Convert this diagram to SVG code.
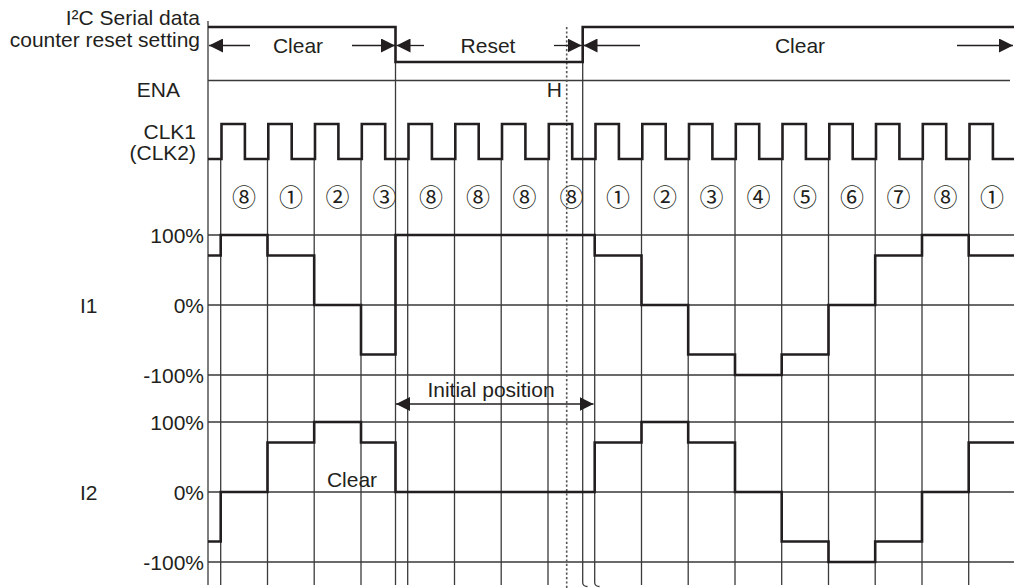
<svg xmlns="http://www.w3.org/2000/svg" width="1014" height="588" viewBox="0 0 1014 588">
<defs>
<style>
.t{font-family:"Liberation Sans",Arial,sans-serif;font-size:21px;fill:#231f20}
.r{text-anchor:end}
.m{text-anchor:middle}
.n{font-family:"Noto Sans CJK JP","DejaVu Sans",sans-serif;font-size:24px;fill:#231f20;text-anchor:middle}
.g{stroke:#3a3a3a;stroke-width:1.3;fill:none}
.w{stroke:#231f20;stroke-width:2.6;fill:none;stroke-linejoin:miter}
.a{stroke:#231f20;stroke-width:1.3;fill:none}
.d{stroke:#555;stroke-width:1.6;stroke-dasharray:2.2 2.2;fill:none}
</style>
<marker id="ah" viewBox="0 0 14 14" refX="14" refY="7" markerWidth="14" markerHeight="14" markerUnits="userSpaceOnUse" orient="auto-start-reverse">
<path d="M0,0 L14,7 L0,14 Z" fill="#231f20"/>
</marker>
</defs>
<rect width="1014" height="588" fill="#fff"/>

<g id="grid">
<path class="g" d="M208,21 V585 M395.5,62 V585 M208,80.5 H1010 M208,235 H1014 M208,305 H1014 M208,375 H1014 M208,422 H1014 M208,492 H1014 M208,562 H1014"/>
<path class="g" d="M220.7,159 V585 M267.5,159 V585 M314.2,159 V585 M361,159 V585 M407.7,159 V585 M454.5,159 V585 M501.2,159 V585 M548,159 V585 M641.5,159 V585 M688.2,159 V585 M735,159 V585 M781.7,159 V585 M828.5,159 V585 M875.2,159 V585 M922,159 V585 M968.7,159 V585"/>
<path class="g" d="M582.7,62 V583 Q583.2,586.5 587.5,586.5 M594.7,159 V583 Q595.2,586.5 599.5,586.5"/>
<path class="d" d="M566.7,27 V588"/>
</g>

<g id="labels">
<text class="t r" x="200" y="25">I²C Serial data</text>
<text class="t r" x="200" y="47">counter reset setting</text>
<text class="t r" x="180" y="97">ENA</text>
<text class="t r" x="562" y="97">H</text>
<text class="t r" x="196" y="139">CLK1</text>
<text class="t r" x="196" y="160">(CLK2)</text>
<text class="t" x="80" y="312.5">I1</text>
<text class="t" x="80" y="500">I2</text>
<text class="t r" x="204" y="242.5">100%</text>
<text class="t r" x="204" y="312.5">0%</text>
<text class="t r" x="204" y="382.5">-100%</text>
<text class="t r" x="204" y="429.5">100%</text>
<text class="t r" x="204" y="499.5">0%</text>
<text class="t r" x="204" y="569.5">-100%</text>
</g>

<g id="reset-setting">
<path class="w" d="M208,27 H395.5 V62 H582.7 V27 H1014"/>
<text class="t m" x="298" y="53">Clear</text>
<text class="t m" x="488" y="53">Reset</text>
<text class="t m" x="800" y="53">Clear</text>
</g>

<g id="clock">
<path class="w" d="M208,159 H221.5 V124 H244.9 V159 H268.3 V124 H291.7 V159 H315 V124 H338.4 V159 H361.8 V124 H385.2 V159 H408.5 V124 H431.9 V159 H455.3 V124 H478.7 V159 H502 V124 H525.4 V159 H548.8 V124 H572.2 V159 H595.5 V124 H618.9 V159 H642.3 V124 H665.7 V159 H689 V124 H712.4 V159 H735.8 V124 H759.2 V159 H782.5 V124 H805.9 V159 H829.3 V124 H852.7 V159 H876 V124 H899.4 V159 H922.8 V124 H946.2 V159 H969.5 V124 H992.9 V159 H1014"/>
</g>

<g id="steps">
<text class="n" x="244.1" y="206">⑧</text>
<text class="n" x="290.9" y="206">①</text>
<text class="n" x="337.6" y="206">②</text>
<text class="n" x="384.4" y="206">③</text>
<text class="n" x="431.1" y="206">⑧</text>
<text class="n" x="477.9" y="206">⑧</text>
<text class="n" x="524.6" y="206">⑧</text>
<text class="n" x="571.4" y="206">⑧</text>
<text class="n" x="618.1" y="206">①</text>
<text class="n" x="664.9" y="206">②</text>
<text class="n" x="711.6" y="206">③</text>
<text class="n" x="758.4" y="206">④</text>
<text class="n" x="805.1" y="206">⑤</text>
<text class="n" x="851.9" y="206">⑥</text>
<text class="n" x="898.6" y="206">⑦</text>
<text class="n" x="945.4" y="206">⑧</text>
<text class="n" x="992.1" y="206">①</text>
</g>

<g id="I1">
<path class="w" d="M208,255.5 H220.7 V235 H267.5 V255.5 H314.2 V305 H361 V354.5 H395.5 V235 H594.7 V255.5 H641.5 V305 H688.2 V354.5 H735 V375 H781.7 V354.5 H828.5 V305 H875.2 V255.5 H922 V235 H968.7 V255.5 H1014"/>
</g>

<g id="I2">
<path class="w" d="M208,541.5 H220.7 V492 H267.5 V442.5 H314.2 V422 H361 V442.5 H395.5 V492 H594.7 V442.5 H641.5 V422 H688.2 V442.5 H735 V492 H781.7 V541.5 H828.5 V562 H875.2 V541.5 H922 V492 H968.7 V442.5 H1014"/>
<text class="t m" x="352" y="487">Clear</text>
</g>

<g id="connectors">
<path class="a" d="M250,45.5 H209" marker-end="url(#ah)"/>
<path class="a" d="M352,45.5 H395" marker-end="url(#ah)"/>
<path class="a" d="M424,45.5 H396.5" marker-end="url(#ah)"/>
<path class="a" d="M554,45.5 H581.7" marker-end="url(#ah)"/>
<path class="a" d="M640,45.5 H583.5" marker-end="url(#ah)"/>
<path class="a" d="M957,45.5 H1013" marker-end="url(#ah)"/>
<path class="a" d="M396,404 H593.5" marker-start="url(#ah)" marker-end="url(#ah)"/>
<text class="t m" x="491" y="397">Initial position</text>
</g>
</svg>
